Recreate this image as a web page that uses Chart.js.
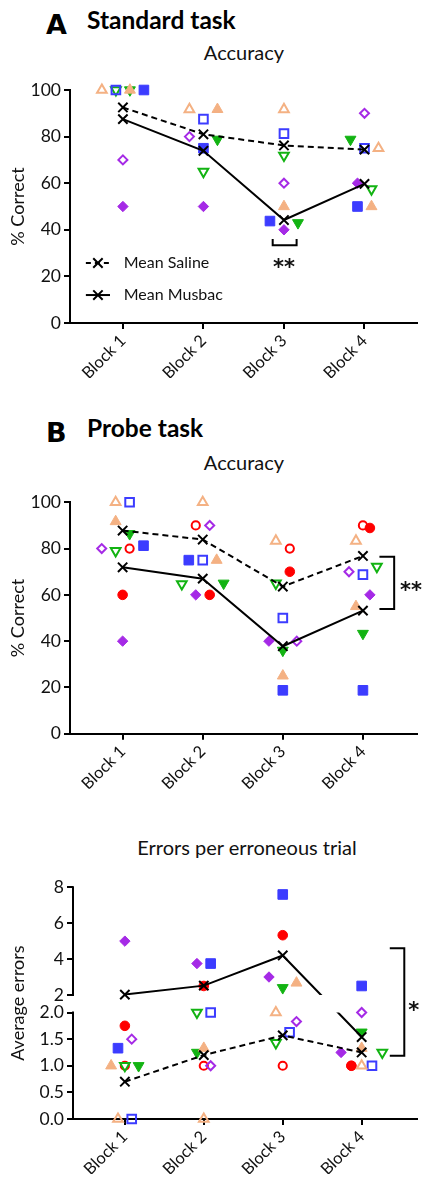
<!DOCTYPE html>
<html>
<head>
<meta charset="utf-8">
<script src="https://cdn.jsdelivr.net/npm/chart.js@4.4.1/dist/chart.umd.min.js"></script>
<style>
  body { margin: 0; background: #fff; }
  #page { position: relative; width: 426px; height: 1179px; overflow: hidden; font-family: Lato, sans-serif; color: #111; }
  .head { position: absolute; font-weight: bold; line-height: 1; white-space: nowrap; color: #000; }
  .big { font-family: "DejaVu Sans", sans-serif; font-size: 27px; }
  .name { font-size: 24.5px; }
  .sub { position: absolute; font-size: 20px; line-height: 1; white-space: nowrap; transform: translateX(-50%); }
  .box { position: absolute; left: 0; width: 426px; }
</style>
</head>
<body>
<div id="page">
  <div class="head big" style="left:46px;top:11px">A</div>
  <div class="head name" style="left:87px;top:8px">Standard task</div>
  <div class="sub" style="left:244px;top:42px">Accuracy</div>
  <div class="box" style="top:60px;height:330px"><canvas id="cA"></canvas></div>

  <div class="head big" style="left:46px;top:419px">B</div>
  <div class="head name" style="left:87px;top:416px">Probe task</div>
  <div class="sub" style="left:244px;top:452px">Accuracy</div>
  <div class="box" style="top:480px;height:320px"><canvas id="cB"></canvas></div>

  <div class="sub" style="left:247px;top:837px">Errors per erroneous trial</div>
  <div class="box" style="top:870px;height:309px"><canvas id="cC"></canvas></div>
</div>

<script>
const blocks = ["Block 1", "Block 2", "Block 3", "Block 4"];
const legendText = ["Mean Saline", "Mean Musbac"];

// A - standard task, % correct (open = saline, filled = musbac)
const aSalineMean = [92.5, 81.0, 76.2, 74.4];
const aMusbacMean = [87.5, 73.9, 44.2, 59.7];
const aSalineTri  = [100, 91.7, 91.7, 75];
const aSalineSq   = [100, 87.5, 81.25, 75];
const aSalineDown = [100, 65, 71.9, 57.5];
const aSalineDia  = [70, 80, 60, 90];
const aMusbacTri  = [100, 91.7, 50, 50];
const aMusbacSq   = [100, 75, 43.75, 50];
const aMusbacDown = [100, 78.8, 43, 78.8];
const aMusbacDia  = [50, 50, 40, 60];

// B - probe task, % correct
const bSalineMean = [87.8, 83.9, 63.6, 76.8];
const bMusbacMean = [71.9, 67.0, 37.8, 53.2];
const bSalineTri  = [100, 100, 83.3, 83.3];
const bSalineSq   = [100, 75, 50, 68.75];
const bSalineDown = [79, 64.7, 65, 72.2];
const bSalineDia  = [80, 90, 40, 70];
const bSalineDot  = [80, 90, 80, 90];
const bMusbacTri  = [91.7, 75, 25, 55];
const bMusbacSq   = [81.25, 75, 18.75, 18.75];
const bMusbacDown = [86.4, 65, 36, 43.3];
const bMusbacDia  = [40, 60, 40, 60];
const bMusbacDot  = [60, 60, 70, 88.9];

// C - errors per erroneous trial
const cSalineMean = [0.7, 1.2, 1.57, 1.25];
const cMusbacMean = [2.02, 2.52, 4.2, 1.54];
const cSalineTri  = [0, 0, 2.0, 1.0];
const cSalineSq   = [0, 2.0, 1.63, 1.0];
const cSalineDown = [1.0, 2.0, 1.43, 1.25];
const cSalineDia  = [1.5, 1.0, 1.83, 2.0];
const cSalineDot  = [1.0, 1.0, 1.0, 1.0];
const cMusbacTri  = [1.0, 1.33, 2.67, 1.33];
const cMusbacSq   = [1.33, 3.75, 7.6, 2.5];
const cMusbacDown = [1.0, 1.25, 2.4, 1.63];
const cMusbacDia  = [5.0, 3.75, 3.0, 1.25];
const cMusbacDot  = [1.75, 2.5, 5.33, 1.0];
const cLowTicks  = [0, 0.5, 1, 1.5, 2];
const cHighTicks = [2, 4, 6, 8];

// side-by-side spread of overlapping symbols, in symbol steps
const aSpread = {
  salTri: [-3, -2, 0, 2], salSq: [-1, 0, 0, 0], salDown: [-1, 0, 0, 1], salDia: [0, -2, 0, 0],
  musTri: [1, 2, 0, 1], musSq: [3, 0, -2, -1], musDown: [1, 2, 2, -2], musDia: [0, 0, 0, -1]
};
const bSpread = {
  salTri: [-1, 0, -1, -1], salSq: [1, 0, 0, 0], salDown: [-1, -3, -1, 2], salDia: [-3, 1, 2, -2], salDot: [1, -1, 1, 0],
  musTri: [-1, 2, 0, -1], musSq: [3, -2, 0, 0], musDown: [1, 3, 0, 0], musDia: [0, -1, -2, 1], musDot: [0, 1, 1, 1]
};
const cSpread = {
  salTri: [-1, 0, -1, 0], salSq: [1, 1, 1, 1.5], salDown: [0, -1, -1, 3], salDia: [1, 1, 2, 0], salDot: [0, 0, 0, -1.5],
  musTri: [-2, 0, 2, 0], musSq: [-1, 1, 0, 0], musDown: [2, -1, 0, 0], musDia: [0, -1, -2, -3], musDot: [0, 0, 0, -1.5]
};

const STEP = 0.087;
const look = {
  Tri:  { color: "#F4B183", style: "triangle", rot: 0,   r: 6.3 },
  Sq:   { color: "#3C3CFF", style: "rect",     rot: 0,   r: 6.8 },
  Down: { color: "#12B312", style: "triangle", rot: 180, r: 6.3 },
  Dia:  { color: "#A52AE6", style: "rectRot",  rot: 0,   r: 5.2 },
  Dot:  { color: "#FF0000", style: "circle",   rot: 0,   r: 4.8 }
};

// broken axis for panel C: 0-2 as is, 2-8 squeezed above a gap
const GAP = 0.33, K = 0.337;
const hi = v => 2 + GAP + (v - 2) * K;
const brk = v => (v <= 2 ? v : hi(v));
const same = v => v;

function ratSet(vals, spread, key, open, tf) {
  const k = look[key];
  return {
    data: vals.map((v, i) => ({ x: i + 1 + spread[i] * STEP, y: tf(v) })),
    showLine: false, clip: false,
    pointStyle: k.style, pointRotation: k.rot,
    pointRadius: open ? k.r - 0.7 : k.r,
    pointBorderWidth: open ? 2 : 1,
    pointBorderColor: k.color,
    pointBackgroundColor: open ? "rgba(255,255,255,0)" : k.color
  };
}

function meanSet(vals, dashed, tf, points, line) {
  return {
    data: vals.map((v, i) => ({ x: i + 1, y: tf(v) })),
    showLine: line, clip: false, breakClip: !points,
    borderColor: "#000", borderWidth: 2, borderDash: dashed ? [6, 4] : [],
    pointStyle: "crossRot", pointRadius: points ? 6.6 : 0, pointBorderWidth: 2,
    pointBorderColor: "#000", pointBackgroundColor: "#000"
  };
}

function ratSets(src, spread, keys, tf) {
  const out = [];
  keys.forEach(k => out.push(ratSet(src["sal" + k], spread["sal" + k], k, true, tf)));
  keys.forEach(k => out.push(ratSet(src["mus" + k], spread["mus" + k], k, false, tf)));
  return out;
}

// brackets, stars, legend and broken axis line
const extras = {
  id: "extras",
  beforeDatasetDraw(chart, args, opts) {
    const ds = chart.data.datasets[args.index];
    if (!ds.breakClip || !opts.gap) return;
    const { ctx, scales: { y } } = chart;
    const top = y.getPixelForValue(opts.gap[1]), bot = y.getPixelForValue(opts.gap[0]);
    ctx.save();
    ctx.beginPath();
    ctx.rect(0, 0, chart.width, top);
    ctx.rect(0, bot, chart.width, chart.height - bot);
    ctx.clip();
  },
  afterDatasetDraw(chart, args, opts) {
    const ds = chart.data.datasets[args.index];
    if (ds.breakClip && opts.gap) chart.ctx.restore();
  },
  afterDatasetsDraw(chart, args, opts) {
    const { ctx, chartArea: a, scales: { x, y } } = chart;
    ctx.save();
    ctx.strokeStyle = "#000";
    ctx.fillStyle = "#111";
    ctx.lineWidth = 2;
    (opts.brackets || []).forEach(b => {
      ctx.beginPath();
      b.forEach((p, i) => {
        const px = x.getPixelForValue(p[0]), py = y.getPixelForValue(p[1]);
        if (i === 0) ctx.moveTo(px, py); else ctx.lineTo(px, py);
      });
      ctx.stroke();
    });
    (opts.stars || []).forEach(s => {
      ctx.font = "bold 21px 'DejaVu Sans'";
      ctx.textAlign = "center";
      ctx.textBaseline = "alphabetic";
      ctx.fillText(s.t, x.getPixelForValue(s.x), y.getPixelForValue(s.y) + 12);
    });
    if (opts.legend) {
      const L = opts.legend;
      L.rows.forEach((row, i) => {
        const py = y.getPixelForValue(row);
        const x0 = x.getPixelForValue(L.x0), x1 = x.getPixelForValue(L.x1);
        const xm = (x0 + x1) / 2;
        ctx.setLineDash(i === 0 ? [5, 4] : []);
        ctx.beginPath(); ctx.moveTo(x0, py); ctx.lineTo(x1, py); ctx.stroke();
        ctx.setLineDash([]);
        ctx.beginPath();
        ctx.moveTo(xm - 4.7, py - 4.7); ctx.lineTo(xm + 4.7, py + 4.7);
        ctx.moveTo(xm - 4.7, py + 4.7); ctx.lineTo(xm + 4.7, py - 4.7);
        ctx.stroke();
        ctx.font = "16px Lato";
        ctx.textAlign = "left";
        ctx.textBaseline = "middle";
        ctx.fillText(legendText[i], x.getPixelForValue(L.tx), py);
      });
    }
    if (opts.gap) {
      ctx.beginPath();
      ctx.moveTo(a.left, y.getPixelForValue(0) + 1);
      ctx.lineTo(a.left, y.getPixelForValue(opts.gap[0]) - 1);
      ctx.moveTo(a.left, y.getPixelForValue(opts.gap[1]) + 1);
      ctx.lineTo(a.left, y.getPixelForValue(hi(8)) - 1);
      ctx.stroke();
    }
    ctx.restore();
  }
};

Chart.defaults.font.family = "Lato";
Chart.defaults.color = "#111";

function makeChart(id, c) {
  return new Chart(document.getElementById(id), {
    type: "scatter",
    data: { datasets: c.datasets },
    options: {
      responsive: true, maintainAspectRatio: false, animation: false, events: [],
      layout: { padding: c.pad },
      plugins: { legend: { display: false }, tooltip: { enabled: false }, extras: c.extras },
      scales: {
        x: {
          type: "linear", min: 0.343, max: c.xMax,
          afterBuildTicks: s => { s.ticks = blocks.map((b, i) => ({ value: i + 1 })); },
          afterFit: s => { s.height = c.xh; },
          ticks: { callback: v => blocks[Math.round(v) - 1], autoSkip: false, minRotation: 45, maxRotation: 45, padding: 2, font: { size: 16.5 }, color: "#111" },
          grid: { drawOnChartArea: false, drawTicks: true, tickLength: 6, color: "#000", lineWidth: 2 },
          border: { display: true, color: "#000", width: 2 }
        },
        y: Object.assign({
          type: "linear",
          afterFit: s => { s.width = c.yw; },
          title: { display: true, text: c.yTitle, font: { size: 18 }, color: "#111", padding: { top: 7, bottom: 0 } },
          grid: { drawOnChartArea: false, drawTicks: true, tickLength: 6, color: "#000", lineWidth: 2 },
          border: { display: true, color: "#000", width: 2 }
        }, c.y)
      }
    },
    plugins: [extras]
  });
}

const tickFont = { size: 17.5 };

// Panel A
makeChart("cA", {
  pad: { top: 30, bottom: 12, left: 0, right: 8 }, xh: 55, yw: 70, xMax: 4.657, yTitle: "% Correct",
  y: { min: 0, max: 100, ticks: { stepSize: 20, font: tickFont, color: "#111", padding: 3 } },
  datasets: [
    meanSet(aSalineMean, true, same, true, true),
    meanSet(aMusbacMean, false, same, true, true)
  ].concat(ratSets({
    salTri: aSalineTri, salSq: aSalineSq, salDown: aSalineDown, salDia: aSalineDia,
    musTri: aMusbacTri, musSq: aMusbacSq, musDown: aMusbacDown, musDia: aMusbacDia
  }, aSpread, ["Tri", "Sq", "Down", "Dia"], same)),
  extras: {
    brackets: [[[2.86, 36], [2.86, 33.4], [3.157, 33.4], [3.157, 36]]],
    stars: [{ t: "**", x: 3, y: 26.2 }],
    legend: { rows: [25.75, 12], x0: 0.54, x1: 0.84, tx: 1.01 }
  }
});

// Panel B
makeChart("cB", {
  pad: { top: 22.3, bottom: 11.3, left: 0, right: 6 }, xh: 55, yw: 70, xMax: 4.68, yTitle: "% Correct",
  y: { min: 0, max: 100, ticks: { stepSize: 20, font: tickFont, color: "#111", padding: 3 } },
  datasets: [
    meanSet(bSalineMean, true, same, true, true),
    meanSet(bMusbacMean, false, same, true, true)
  ].concat(ratSets({
    salTri: bSalineTri, salSq: bSalineSq, salDown: bSalineDown, salDia: bSalineDia, salDot: bSalineDot,
    musTri: bMusbacTri, musSq: bMusbacSq, musDown: bMusbacDown, musDia: bMusbacDia, musDot: bMusbacDot
  }, bSpread, ["Tri", "Sq", "Down", "Dia", "Dot"], same)),
  extras: {
    brackets: [[[4.206, 76.5], [4.39, 76.5], [4.39, 53.9], [4.206, 53.9]]],
    stars: [{ t: "**", x: 4.6, y: 64.3 }]
  }
});

// Panel C
const cTickVals = cLowTicks.concat(cHighTicks.map(hi));
const cTickText = cLowTicks.map(v => v.toFixed(1)).concat(cHighTicks.map(v => String(v)));
makeChart("cC", {
  pad: { top: 17.3, bottom: 5, left: 0, right: 1 }, xh: 55, yw: 73, xMax: 4.706, yTitle: "Average errors",
  y: {
    min: 0, max: hi(8),
    afterBuildTicks: s => { s.ticks = cTickVals.map(v => ({ value: v })); },
    ticks: { callback: (v, i) => cTickText[i], autoSkip: false, font: tickFont, color: "#111", padding: 3 },
    border: { display: false }
  },
  datasets: [
    meanSet(cSalineMean, true, brk, true, false),
    meanSet(cMusbacMean, false, brk, true, false),
    meanSet(cSalineMean, true, brk, false, true),
    meanSet(cMusbacMean, false, brk, false, true)
  ].concat(ratSets({
    salTri: cSalineTri, salSq: cSalineSq, salDown: cSalineDown, salDia: cSalineDia, salDot: cSalineDot,
    musTri: cMusbacTri, musSq: cMusbacSq, musDown: cMusbacDown, musDia: cMusbacDia, musDot: cMusbacDot
  }, cSpread, ["Tri", "Sq", "Down", "Dia", "Dot"], brk)),
  extras: {
    gap: [2, hi(2)],
    brackets: [[[4.356, hi(4.6)], [4.54, hi(4.6)], [4.54, 1.19], [4.356, 1.19]]],
    stars: [{ t: "*", x: 4.66, y: 2.14 }]
  }
});
</script>
</body>
</html>
